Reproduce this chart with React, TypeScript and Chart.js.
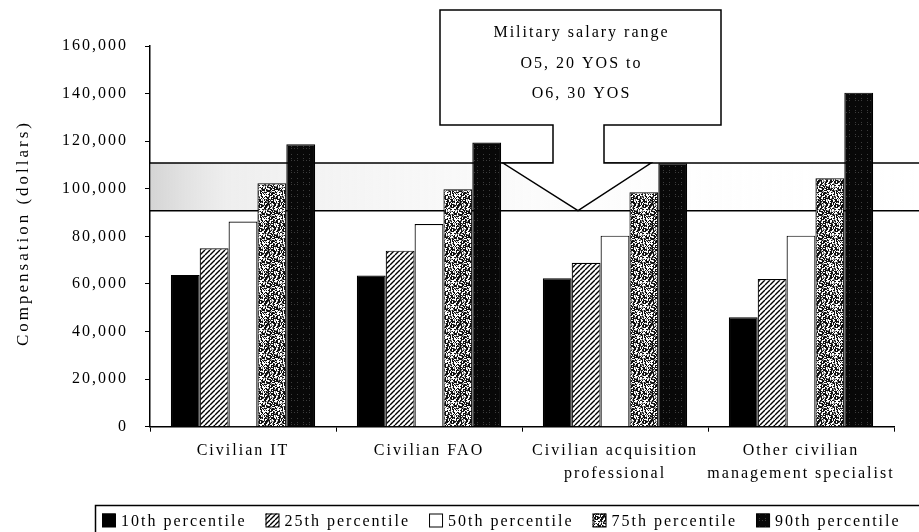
import React, { useEffect, useRef } from 'react';
import { Chart, registerables } from 'chart.js';

Chart.register(...registerables);

// ---- data ----
const CATEGORIES: (string | string[])[] = [
  'Civilian IT',
  'Civilian FAO',
  ['Civilian acquisition', 'professional'],
  ['Other civilian', 'management specialist'],
];
const SERIES_LABELS = ['10th percentile', '25th percentile', '50th percentile', '75th percentile', '90th percentile'];
const P10 = [63800, 63500, 62400, 46000];
const P25 = [75000, 74000, 68900, 62100];
const P50 = [86200, 85200, 80300, 80300];
const P75 = [102300, 99800, 98500, 104400];
const P90 = [118700, 119400, 110700, 140400];
const MIL_RANGE_LOW = 90800;
const MIL_RANGE_HIGH = 110800;
const CALLOUT_LINES = ['Military salary range', 'O5, 20 YOS to', 'O6, 30 YOS'];
const Y_TITLE = 'Compensation (dollars)';
const Y_MAX = 160000;
const Y_STEP = 20000;

const FONT = '"Liberation Serif", "Times New Roman", serif';

function makeCanvas(w: number, h: number) {
  const c = document.createElement('canvas');
  c.width = w;
  c.height = h;
  return c;
}

function hatchPattern(ctx: CanvasRenderingContext2D) {
  const s = 5;
  const c = makeCanvas(s, s);
  const g = c.getContext('2d')!;
  g.fillStyle = '#fff';
  g.fillRect(0, 0, s, s);
  g.strokeStyle = '#000';
  g.lineWidth = 1.4;
  g.beginPath();
  for (const o of [-s, 0, s]) {
    g.moveTo(o, s);
    g.lineTo(o + s, 0);
  }
  g.stroke();
  return ctx.createPattern(c, 'repeat')!;
}

function hashBit(x: number, y: number, thr: number) {
  let h = Math.imul(x, 374761393) + Math.imul(y, 668265263);
  h = Math.imul(h ^ (h >>> 13), 1274126177);
  h = h ^ (h >>> 16);
  return ((h >>> 0) % 100) < thr;
}

function speckPattern(ctx: CanvasRenderingContext2D) {
  const s = 24;
  const c = makeCanvas(s, s);
  const g = c.getContext('2d')!;
  g.fillStyle = '#fff';
  g.fillRect(0, 0, s, s);
  for (let y = 0; y < s; y++)
    for (let x = 0; x < s; x++) {
      if (hashBit(x, y, 45)) {
        g.fillStyle = '#111';
        g.fillRect(x, y, 1, 1);
      } else if (hashBit(x + 50, y + 31, 30)) {
        g.fillStyle = '#888';
        g.fillRect(x, y, 1, 1);
      }
    }
  return ctx.createPattern(c, 'repeat')!;
}

function darkPattern(ctx: CanvasRenderingContext2D) {
  const s = 12;
  const c = makeCanvas(s, s);
  const g = c.getContext('2d')!;
  g.fillStyle = '#080808';
  g.fillRect(0, 0, s, s);
  g.fillStyle = '#3c3c3c';
  for (let y = 0; y < s; y += 2) for (let x = 0; x < s; x += 3) if (hashBit(x + 100, y + 7, 30)) g.fillRect(x, y, 1, 1);
  return ctx.createPattern(c, 'repeat')!;
}

const spacingPlugin = {
  id: 'spacing',
  beforeLayout(chart: any) {
    chart.ctx.letterSpacing = '2px';
  },
  beforeDraw(chart: any) {
    chart.ctx.letterSpacing = '2px';
  },
};

const bandPlugin = {
  id: 'band',
  beforeDatasetsDraw(chart: any) {
    const { ctx, chartArea, scales } = chart;
    const y = scales.y;
    const yTop = y.getPixelForValue(MIL_RANGE_HIGH);
    const yBot = y.getPixelForValue(MIL_RANGE_LOW);
    const x0 = chartArea.left;
    const x1 = chart.width;
    ctx.save();
    const grad = ctx.createLinearGradient(x0, 0, x1, 0);
    grad.addColorStop(0, 'rgba(170,170,170,0.5)');
    grad.addColorStop(0.1, 'rgba(200,200,200,0.3)');
    grad.addColorStop(0.5, 'rgba(230,230,230,0.15)');
    grad.addColorStop(1, 'rgba(255,255,255,0)');
    ctx.fillStyle = grad;
    ctx.fillRect(x0, yTop, x1 - x0, yBot - yTop);
    ctx.strokeStyle = '#000';
    ctx.lineWidth = 1.5;
    ctx.beginPath();
    ctx.moveTo(x0, yTop);
    ctx.lineTo(x1, yTop);
    ctx.moveTo(x0, yBot);
    ctx.lineTo(x1, yBot);
    ctx.stroke();
    ctx.restore();
  },
};

const calloutPlugin = {
  id: 'callout',
  afterDatasetsDraw(chart: any) {
    const { ctx, scales } = chart;
    const y = scales.y;
    const yTop = y.getPixelForValue(MIL_RANGE_HIGH);
    const yBot = y.getPixelForValue(MIL_RANGE_LOW);
    const L = 440, R = 721, T = 10, B = 125;
    const sL = 553, sR = 604;
    const vL = 503, vA = 578, vR = 651;
    ctx.save();
    ctx.beginPath();
    ctx.moveTo(L, T);
    ctx.lineTo(R, T);
    ctx.lineTo(R, B);
    ctx.lineTo(sR, B);
    ctx.lineTo(sR, yTop);
    ctx.lineTo(vR, yTop);
    ctx.lineTo(vA, yBot);
    ctx.lineTo(vL, yTop);
    ctx.lineTo(sL, yTop);
    ctx.lineTo(sL, B);
    ctx.lineTo(L, B);
    ctx.closePath();
    ctx.fillStyle = '#fff';
    ctx.fill();
    ctx.strokeStyle = '#000';
    ctx.lineWidth = 1.5;
    ctx.stroke();
    ctx.fillStyle = '#000';
    ctx.font = `16px ${FONT}`;
    ctx.letterSpacing = '2px';
    ctx.textAlign = 'center';
    ctx.textBaseline = 'middle';
    const ys = [33, 64, 94];
    CALLOUT_LINES.forEach((t, i) => ctx.fillText(t, (L + R) / 2 + 1, ys[i]));
    ctx.restore();
  },
};

const decorPlugin = {
  id: 'decor',
  afterDraw(chart: any) {
    const { ctx } = chart;
    ctx.save();
    // y-axis title
    ctx.save();
    ctx.translate(24, 233);
    ctx.rotate(-Math.PI / 2);
    ctx.font = `17px ${FONT}`;
    ctx.letterSpacing = '3px';
    ctx.fillStyle = '#000';
    ctx.textAlign = 'center';
    ctx.textBaseline = 'middle';
    ctx.fillText(Y_TITLE, 0, 0);
    ctx.restore();
    // legend
    ctx.strokeStyle = '#000';
    ctx.lineWidth = 1.5;
    ctx.strokeRect(95.5, 505.5, 1000, 60);
    ctx.font = `16px ${FONT}`;
    ctx.letterSpacing = '2px';
    ctx.textBaseline = 'middle';
    ctx.textAlign = 'left';
    let x = 102;
    const yc = 520.5;
    chart.data.datasets.forEach((ds: any) => {
      ctx.fillStyle = ds.backgroundColor;
      ctx.fillRect(x, yc - 7, 13.5, 13.5);
      ctx.lineWidth = 1;
      ctx.strokeStyle = '#000';
      ctx.strokeRect(x + 0.5, yc - 6.5, 13, 13);
      ctx.fillStyle = '#000';
      ctx.fillText(ds.label, x + 19, yc + 1);
      x += 19 + ctx.measureText(ds.label).width + 19;
    });
    ctx.restore();
  },
};

export default function App() {
  const ref = useRef<HTMLCanvasElement>(null);
  useEffect(() => {
    const canvas = ref.current!;
    const ctx = canvas.getContext('2d')!;
    const fills = ['#000', hatchPattern(ctx), '#fff', speckPattern(ctx), darkPattern(ctx)];
    const series = [P10, P25, P50, P75, P90];
    const chart = new Chart(canvas, {
      type: 'bar',
      data: {
        labels: CATEGORIES as any,
        datasets: series.map((d, i) => ({
          label: SERIES_LABELS[i],
          data: d,
          backgroundColor: fills[i] as any,
          borderColor: '#000',
          borderWidth: 1.2,
          categoryPercentage: 0.776,
          barPercentage: 1,
        })),
      },
      options: {
        animation: false,
        responsive: false,
        devicePixelRatio: 1,
        layout: { padding: { top: 46, right: 25, bottom: 0, left: 0 } },
        plugins: { legend: { display: false }, tooltip: { enabled: false } },
        scales: {
          x: {
            grid: { display: true, drawOnChartArea: false, drawTicks: true, tickLength: 5, color: '#000', lineWidth: 1, offset: true },
            border: { display: true, color: '#000', width: 1.5 },
            ticks: { color: '#000', font: { family: FONT, size: 16, lineHeight: 1.45 }, padding: 7, maxRotation: 0, autoSkip: false },
            afterFit: (s: any) => { s.height = 105.3; },
          },
          y: {
            min: 0,
            max: Y_MAX,
            ticks: {
              stepSize: Y_STEP,
              color: '#000',
              font: { family: FONT, size: 16 },
              padding: 17,
              callback: (v: any) => Number(v).toLocaleString('en-US'),
            },
            grid: { display: true, drawOnChartArea: false, drawTicks: true, tickLength: 5, color: '#000' },
            border: { display: true, color: '#000', width: 1.5 },
            afterFit: (s: any) => { s.width = 150; },
          },
        },
      },
      plugins: [spacingPlugin, bandPlugin, calloutPlugin, decorPlugin],
    });
    return () => chart.destroy();
  }, []);
  return (
    <div style={{ position: 'fixed', left: 0, top: 0, width: 919, height: 532, background: '#fff' }}>
      <canvas ref={ref} width={919} height={532} style={{ width: 919, height: 532, display: 'block' }} />
    </div>
  );
}
